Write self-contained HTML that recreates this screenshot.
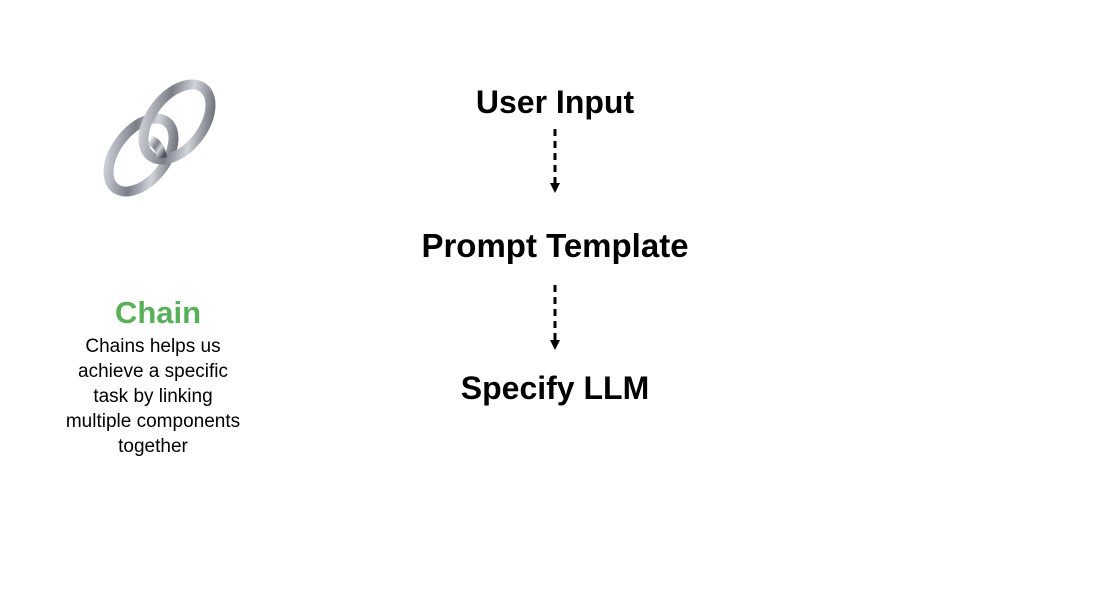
<!DOCTYPE html>
<html><head><style>
body{margin:0;width:1114px;height:600px;background:#fff;position:relative;overflow:hidden;font-family:"Liberation Sans",sans-serif}
.t{position:absolute;font-weight:bold;font-size:32px;color:#000;white-space:nowrap;transform:translateX(-50%);line-height:1}
</style></head><body>
<svg width="1114" height="600" style="position:absolute;left:0;top:0">
<defs>
<linearGradient id="g" x1="0" y1="0" x2="1" y2="1">
<stop offset="0" stop-color="#e6e8ee"/><stop offset="0.4" stop-color="#7a7e88"/><stop offset="0.65" stop-color="#d0d3da"/><stop offset="1" stop-color="#4a4e56"/>
</linearGradient>
<marker id="a" markerUnits="userSpaceOnUse" markerWidth="10" markerHeight="10" refX="5" refY="5" orient="auto"><path d="M0,0L10,5L0,10z" fill="#000"/></marker>
</defs>
<ellipse cx="141" cy="155" rx="42" ry="25" transform="rotate(-52 141 155)" fill="none" stroke="url(#g)" stroke-width="10"/>
<ellipse cx="177" cy="122" rx="43" ry="26" transform="rotate(-52 177 122)" fill="none" stroke="url(#g)" stroke-width="10"/>
<path d="M150,140 q10,4 12,18" fill="none" stroke="url(#g)" stroke-width="10"/>
<line x1="555" y1="129" x2="555" y2="188" stroke="#000" stroke-width="3" stroke-dasharray="7,5" marker-end="url(#a)"/>
<line x1="555" y1="285" x2="555" y2="345" stroke="#000" stroke-width="3" stroke-dasharray="7,5" marker-end="url(#a)"/>
</svg>
<div class="t" style="left:555px;top:86px">User Input</div>
<div class="t" style="left:555px;top:229px;font-size:33px">Prompt Template</div>
<div class="t" style="left:555px;top:372px">Specify LLM</div>
<div class="t" style="left:158px;top:297px;color:#5aaf5a;font-size:31px">Chain</div>
<div style="position:absolute;left:23px;width:260px;top:334px;text-align:center;font-size:19px;line-height:25px">Chains helps us<br>achieve a specific<br>task by linking<br>multiple components<br>together</div>
</body></html>
